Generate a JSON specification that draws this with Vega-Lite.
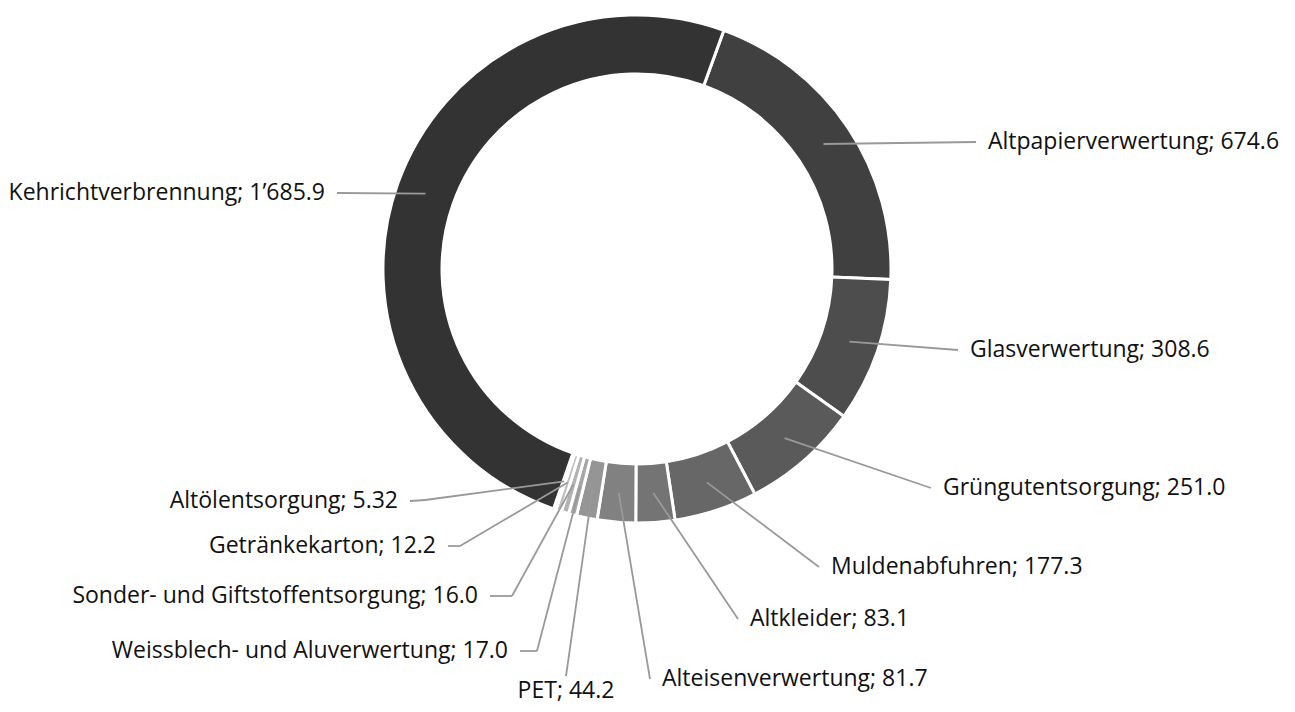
{
  "$schema": "https://vega.github.io/schema/vega-lite/v6.json",
  "width": 1295,
  "height": 712,
  "autosize": {"type": "none"},
  "padding": 0,
  "background": "white",
  "config": {"view": {"stroke": null}},
  "data": {
    "values": [
      {"idx": 1, "category": "Altpapierverwertung", "value": 674.6, "label": "Altpapierverwertung; 674.6", "lx": 1.3346, "ly": 0.5, "ex": 1.3346, "ey": 0.5},
      {"idx": 2, "category": "Glasverwertung", "value": 308.6, "label": "Glasverwertung; 308.6", "lx": 1.2638, "ly": -0.3189, "ex": 1.2638, "ey": -0.3189},
      {"idx": 3, "category": "Grüngutentsorgung", "value": 251.0, "label": "Grüngutentsorgung; 251.0", "lx": 1.1575, "ly": -0.8622, "ex": 1.1575, "ey": -0.8622},
      {"idx": 4, "category": "Muldenabfuhren", "value": 177.3, "label": "Muldenabfuhren; 177.3", "lx": 0.7165, "ly": -1.1732, "ex": 0.7165, "ey": -1.1732},
      {"idx": 5, "category": "Altkleider", "value": 83.1, "label": "Altkleider; 83.1", "lx": 0.3976, "ly": -1.378, "ex": 0.3976, "ey": -1.378},
      {"idx": 6, "category": "Alteisenverwertung", "value": 81.7, "label": "Alteisenverwertung; 81.7", "lx": 0.0512, "ly": -1.6142, "ex": 0.0512, "ey": -1.6142},
      {"idx": 7, "category": "PET", "value": 44.2, "label": "PET; 44.2", "lx": -0.2795, "ly": -1.6024, "ex": -0.2795, "ey": -1.6024},
      {"idx": 8, "category": "Weissblech- und Aluverwertung", "value": 17.0, "label": "Weissblech- und Aluverwertung; 17.0", "lx": -0.4606, "ly": -1.5039, "ex": -0.3937, "ey": -1.5039},
      {"idx": 9, "category": "Sonder- und Giftstoffentsorgung", "value": 16.0, "label": "Sonder- und Giftstoffentsorgung; 16.0", "lx": -0.5787, "ly": -1.2874, "ex": -0.4921, "ey": -1.2874},
      {"idx": 10, "category": "Getränkekarton", "value": 12.2, "label": "Getränkekarton; 12.2", "lx": -0.7441, "ly": -1.0906, "ex": -0.6969, "ey": -1.0906},
      {"idx": 11, "category": "Altölentsorgung", "value": 5.32, "label": "Altölentsorgung; 5.32", "lx": -0.8937, "ly": -0.9134, "ex": -0.8346, "ey": -0.9094},
      {"idx": 12, "category": "Kehrichtverbrennung", "value": 1685.9, "label": "Kehrichtverbrennung; 1’685.9", "lx": -1.1811, "ly": 0.2992, "ex": -1.1811, "ey": 0.2992}
    ]
  },
  "transform": [
    {"joinaggregate": [{"op": "sum", "field": "value", "as": "total"}]},
    {"window": [{"op": "sum", "field": "value", "as": "cum"}], "sort": [{"field": "idx"}], "frame": [null, 0]},
    {"calculate": "0.349066 + 2 * PI * (datum.cum - datum.value / 2) / datum.total", "as": "mid"},
    {"calculate": "0.884 * sin(datum.mid)", "as": "sx"},
    {"calculate": "0.884 * cos(datum.mid)", "as": "sy"},
    {"calculate": "datum.lx + (datum.lx > 0 ? 0.0472 : -0.0472)", "as": "tx"}
  ],
  "layer": [
    {
      "mark": {"type": "arc", "outerRadius": 254, "innerRadius": 195, "stroke": "white", "strokeWidth": 3},
      "encoding": {
        "x": {"datum": 0, "type": "quantitative", "scale": {"domain": [-2.5079, 2.5906], "nice": false, "zero": false}, "axis": null},
        "y": {"datum": 0, "type": "quantitative", "scale": {"domain": [-1.7441, 1.0591], "nice": false, "zero": false}, "axis": null},
        "theta": {"field": "value", "type": "quantitative", "stack": true, "scale": {"range": [0.349066, 6.632251]}},
        "order": {"field": "idx", "type": "quantitative"},
        "color": {
          "field": "category", "type": "nominal", "legend": null,
          "scale": {
            "domain": ["Altpapierverwertung", "Glasverwertung", "Grüngutentsorgung", "Muldenabfuhren", "Altkleider", "Alteisenverwertung", "PET", "Weissblech- und Aluverwertung", "Sonder- und Giftstoffentsorgung", "Getränkekarton", "Altölentsorgung", "Kehrichtverbrennung"],
            "range": ["#404040", "#4d4d4d", "#5a5a5a", "#676767", "#747474", "#818181", "#959595", "#a6a6a6", "#b3b3b3", "#bfbfbf", "#cccccc", "#333333"]
          }
        }
      }
    },
    {
      "mark": {"type": "rule", "stroke": "#999999", "strokeWidth": 1.8},
      "encoding": {
        "x": {"field": "sx", "type": "quantitative", "scale": {"domain": [-2.5079, 2.5906], "nice": false, "zero": false}, "axis": null},
        "y": {"field": "sy", "type": "quantitative", "scale": {"domain": [-1.7441, 1.0591], "nice": false, "zero": false}, "axis": null},
        "x2": {"field": "ex"},
        "y2": {"field": "ey"}
      }
    },
    {
      "mark": {"type": "rule", "stroke": "#999999", "strokeWidth": 1.8},
      "encoding": {
        "x": {"field": "ex", "type": "quantitative", "axis": null},
        "y": {"field": "ey", "type": "quantitative", "axis": null},
        "x2": {"field": "lx"},
        "y2": {"field": "ly"}
      }
    },
    {
      "transform": [{"filter": "datum.lx > 0"}],
      "mark": {"type": "text", "align": "left", "baseline": "middle", "font": "Open Sans", "fontSize": 23, "color": "#111111"},
      "encoding": {
        "x": {"field": "tx", "type": "quantitative", "axis": null},
        "y": {"field": "ly", "type": "quantitative", "axis": null},
        "text": {"field": "label"}
      }
    },
    {
      "transform": [{"filter": "datum.lx < 0 && datum.category != 'PET'"}],
      "mark": {"type": "text", "align": "right", "baseline": "middle", "font": "Open Sans", "fontSize": 23, "color": "#111111"},
      "encoding": {
        "x": {"field": "tx", "type": "quantitative", "axis": null},
        "y": {"field": "ly", "type": "quantitative", "axis": null},
        "text": {"field": "label"}
      }
    },
    {
      "transform": [{"filter": "datum.category == 'PET'"}],
      "mark": {"type": "text", "align": "center", "baseline": "top", "dy": 4, "font": "Open Sans", "fontSize": 23, "color": "#111111"},
      "encoding": {
        "x": {"field": "lx", "type": "quantitative", "axis": null},
        "y": {"field": "ly", "type": "quantitative", "axis": null},
        "text": {"field": "label"}
      }
    }
  ]
}
